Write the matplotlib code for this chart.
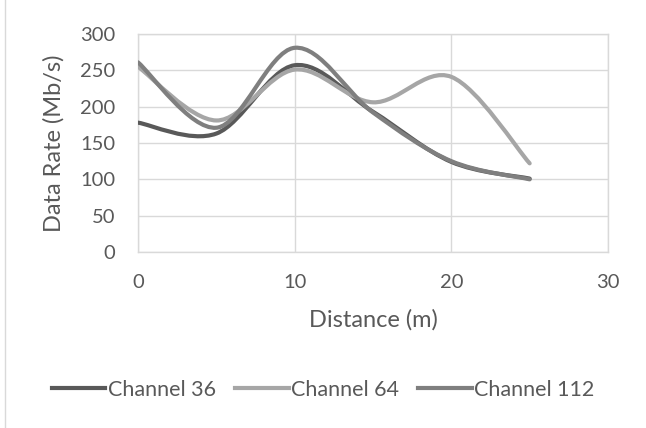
import matplotlib
matplotlib.use("Agg")
import matplotlib.pyplot as plt
from matplotlib.path import Path
from matplotlib.patches import PathPatch
from matplotlib.lines import Line2D
import numpy as np

distance = [0, 5, 10, 15, 20, 25]
ch36 = [178, 163, 257, 193, 124, 101]
ch64 = [255, 181, 251, 206, 241, 122]
ch112 = [261, 171, 281, 192, 125, 100]
series_names = ["Channel 36", "Channel 64", "Channel 112"]
colors = ["#595959", "#a6a6a6", "#7f7f7f"]

plt.rcParams['font.family'] = ['Lato', 'DejaVu Sans']

fig = plt.figure(figsize=(6.46, 4.28), dpi=100)
ax = fig.add_axes([138/646, 1-252/428, 470/646, 218/428])


def smooth_path(xs, ys):
    pts = np.column_stack([xs, ys]).astype(float)
    n = len(pts)
    verts = [pts[0]]
    codes = [Path.MOVETO]
    for i in range(n - 1):
        p0 = pts[i - 1] if i > 0 else pts[i]
        p1 = pts[i]
        p2 = pts[i + 1]
        p3 = pts[i + 2] if i + 2 < n else pts[i + 1]
        c1 = p1 + (p2 - p0) / 6.0
        c2 = p2 - (p3 - p1) / 6.0
        verts += [c1, c2, p2]
        codes += [Path.CURVE4] * 3
    return Path(verts, codes)


for ys, c in zip([ch36, ch64, ch112], colors):
    patch = PathPatch(smooth_path(distance, ys), facecolor='none', edgecolor=c,
                      lw=3.0, capstyle='round', joinstyle='round', zorder=3)
    ax.add_patch(patch)

ax.set_xlim(0, 30)
ax.set_ylim(0, 300)
ax.set_xticks([0, 10, 20, 30])
ax.set_yticks(range(0, 301, 50))
ax.grid(True, color='#d9d9d9', lw=1)
ax.set_axisbelow(True)
for s in ax.spines.values():
    s.set_color('#d9d9d9')
    s.set_linewidth(1)
ax.tick_params(length=0, labelsize=14.5, colors='#595959')
ax.tick_params(axis='x', pad=16)
ax.tick_params(axis='y', pad=16.5)
ax.set_xlabel("Distance (m)", fontsize=17, color='#595959')
ax.set_ylabel("Data Rate (Mb/s)", fontsize=17, color='#595959')
ax.xaxis.set_label_coords(0.5, (252 - 320) / 218)
ax.xaxis.label.set_va('center')
ax.yaxis.set_label_coords((54 - 138) / 470, 0.5)
ax.yaxis.label.set_va('center')

handles = [Line2D([0], [0], color=c, lw=3.0) for c in colors]
fig.legend(handles, series_names, loc='center', bbox_to_anchor=(0.5, 1-390/428),
           ncol=3, frameon=False, fontsize=15.5, labelcolor='#595959',
           handlelength=2.5, handletextpad=0.1, columnspacing=0.9)

fig.add_artist(Line2D([5/646, 5/646], [0, 1], color='#d9d9d9', lw=1))

fig.savefig("out.png", dpi=100)
